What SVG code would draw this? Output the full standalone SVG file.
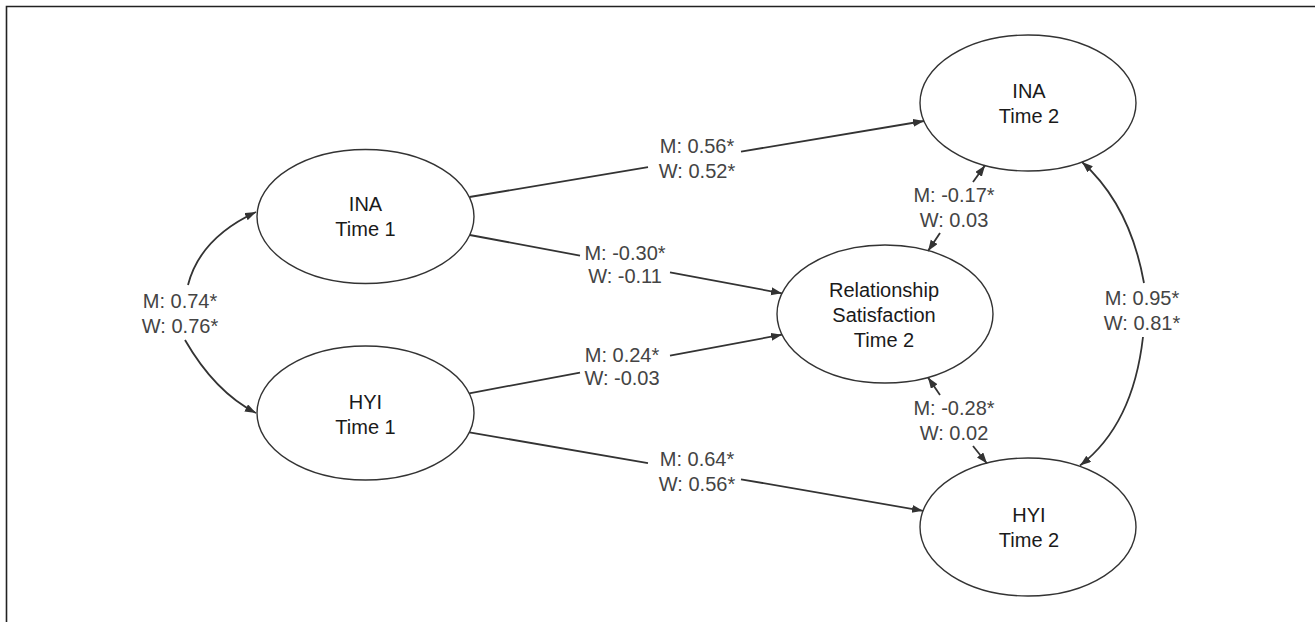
<svg xmlns="http://www.w3.org/2000/svg" width="1315" height="622" viewBox="0 0 1315 622">
<defs>
<marker id="ah" markerUnits="userSpaceOnUse" markerWidth="12" markerHeight="9" refX="11" refY="4" orient="auto">
<path d="M0,0 L11,4 L0,8 z" fill="#333"/>
</marker>
<style>
.node{fill:none;stroke:#333;stroke-width:1.4}
.ntext{font-family:"Liberation Sans",Arial,sans-serif;font-size:20px;fill:#1a1a1a;text-anchor:middle}
.lbl{font-family:"Liberation Sans",Arial,sans-serif;font-size:20px;fill:#444;text-anchor:middle}
.c{fill:none;stroke:#333;stroke-width:1.8}
.ca{fill:none;stroke:#333;stroke-width:1.8;marker-end:url(#ah)}
.frame{stroke:#222;stroke-width:1.6;fill:none}
</style>
</defs>
<rect x="0" y="0" width="1315" height="622" fill="#fff"/>
<path class="frame" d="M6.5,622 L6.5,6.5 L1315,6.5"/>

<g id="ina1">
<ellipse class="node" cx="365.5" cy="216.5" rx="108.5" ry="67"/>
<text class="ntext" x="365.5" y="211">INA</text>
<text class="ntext" x="365.5" y="236">Time 1</text>
</g>
<g id="hyi1">
<ellipse class="node" cx="365.5" cy="413" rx="108.5" ry="67"/>
<text class="ntext" x="365.5" y="409">HYI</text>
<text class="ntext" x="365.5" y="434">Time 1</text>
</g>
<g id="ina2">
<ellipse class="node" cx="1028" cy="103" rx="108" ry="68"/>
<text class="ntext" x="1029" y="98">INA</text>
<text class="ntext" x="1029" y="123">Time 2</text>
</g>
<g id="rs2">
<ellipse class="node" cx="885" cy="314" rx="108" ry="69"/>
<text class="ntext" x="884" y="297">Relationship</text>
<text class="ntext" x="884" y="322">Satisfaction</text>
<text class="ntext" x="884" y="347">Time 2</text>
</g>
<g id="hyi2">
<ellipse class="node" cx="1028" cy="527" rx="108" ry="69"/>
<text class="ntext" x="1029" y="522">HYI</text>
<text class="ntext" x="1029" y="547">Time 2</text>
</g>

<g id="connectors">
<!-- INA1 <-> HYI1 covariance -->
<path class="ca" d="M188,285 Q200,238 256,212"/>
<path class="ca" d="M185,340 Q215,392 256,413"/>
<!-- INA2 <-> HYI2 covariance -->
<path class="ca" d="M1144,283 Q1130,205 1082,162"/>
<path class="ca" d="M1143,337 Q1133,425 1080,465.5"/>
<!-- INA1 -> INA2 -->
<path class="c" d="M469.5,197 L648,167.2"/>
<path class="ca" d="M741,151.6 L924,121"/>
<!-- INA1 -> RS -->
<path class="c" d="M469.8,235 L580,255.6"/>
<path class="ca" d="M670,272.4 L782,293.3"/>
<!-- HYI1 -> RS -->
<path class="c" d="M469.3,393.3 L580,372.6"/>
<path class="ca" d="M670,355.7 L782,334.7"/>
<!-- HYI1 -> HYI2 -->
<path class="c" d="M469.4,432.3 L648,463.2"/>
<path class="ca" d="M741,479.3 L923,510.8"/>
<!-- RS <-> INA2 -->
<path class="ca" d="M973,182 L985,165.4"/>
<path class="ca" d="M940,233 L928,251"/>
<!-- RS <-> HYI2 -->
<path class="ca" d="M940,395 L928,377.5"/>
<path class="ca" d="M973,446 L987,463.5"/>
</g>

<g id="labels">
<text class="lbl" x="180" y="308">M: 0.74*</text>
<text class="lbl" x="180" y="333">W: 0.76*</text>
<text class="lbl" x="1142" y="305">M: 0.95*</text>
<text class="lbl" x="1142" y="330">W: 0.81*</text>
<text class="lbl" x="697" y="153">M: 0.56*</text>
<text class="lbl" x="697" y="178">W: 0.52*</text>
<text class="lbl" x="625" y="260">M: -0.30*</text>
<text class="lbl" x="625" y="283">W: -0.11</text>
<text class="lbl" x="622" y="362">M: 0.24*</text>
<text class="lbl" x="622" y="385">W: -0.03</text>
<text class="lbl" x="697" y="466">M: 0.64*</text>
<text class="lbl" x="697" y="491">W: 0.56*</text>
<text class="lbl" x="954" y="202">M: -0.17*</text>
<text class="lbl" x="954" y="227">W: 0.03</text>
<text class="lbl" x="954" y="415">M: -0.28*</text>
<text class="lbl" x="954" y="440">W: 0.02</text>
</g>
</svg>
